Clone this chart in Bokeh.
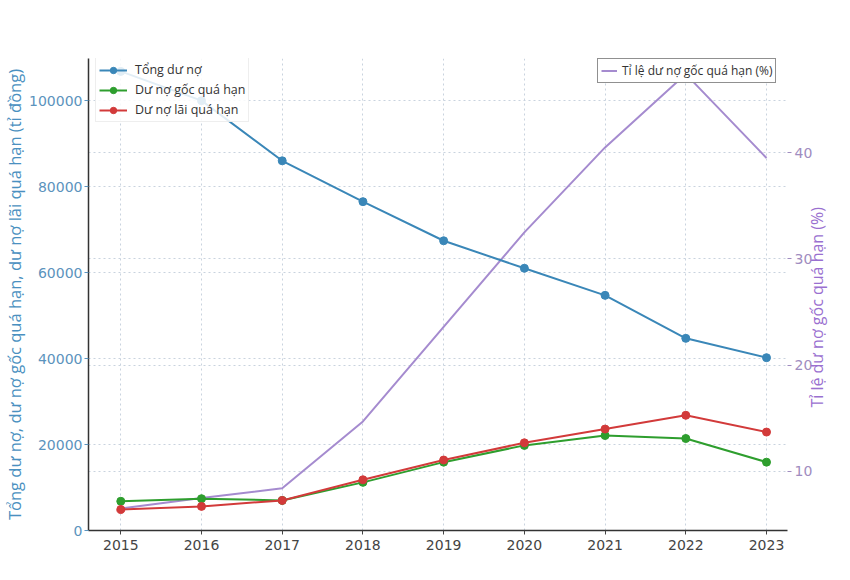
import math
from bokeh.plotting import figure
from bokeh.models import (Range1d, LinearAxis, FixedTicker, Grid, Legend, LegendItem,
                          ColumnDataSource, BasicTickFormatter)
from bokeh.embed import file_html
from bokeh.resources import INLINE

years = [2015, 2016, 2017, 2018, 2019, 2020, 2021, 2022, 2023]
tong_du_no = [106800, 100000, 86000, 76500, 67400, 61000, 54700, 44700, 40200]
goc_qua_han = [6800, 7400, 7000, 11200, 15900, 19800, 22100, 21400, 15900]
lai_qua_han = [4900, 5600, 7000, 11800, 16400, 20400, 23600, 26800, 22900]
ti_le = [6.5, 7.5, 8.4, 14.7, 23.6, 32.5, 40.5, 47.4, 39.5]

left_ticks = [0, 20000, 40000, 60000, 80000, 100000]
right_ticks = [10, 20, 30, 40]
right_title = "Tỉ lệ dư nợ gốc quá hạn (%)"
right_title_start = 16  # right-axis value where the rotated title text begins

src = ColumnDataSource(dict(x=years, tong=tong_du_no, goc=goc_qua_han, lai=lai_qua_han, tl=ti_le))

p = figure(width=842, height=564, output_backend="svg", toolbar_location=None,
           x_range=Range1d(2014.6, 2023.26), y_range=Range1d(0, 109800),
           min_border_left=88, min_border_right=37, min_border_top=58, min_border_bottom=34)
p.extra_y_ranges = {"right": Range1d(4.43, 48.87)}
p.outline_line_color = None
p.background_fill_color = "white"

FONT = "DejaVu Sans"
LFONT = "Open Sans"

# x axis
p.xaxis.ticker = FixedTicker(ticks=years)
p.xaxis.major_label_text_font = FONT
p.xaxis.major_label_text_font_size = "14px"
p.xaxis.major_label_text_color = "#444444"
p.xaxis.axis_line_color = "#333333"
p.xaxis.axis_line_width = 1.5
p.xaxis.major_tick_line_color = "#444444"
p.xaxis.major_tick_out = 4
p.xaxis.major_tick_in = 0
p.xaxis.minor_tick_line_color = None
p.xaxis.major_label_standoff = 5

# left axis
p.yaxis.ticker = FixedTicker(ticks=left_ticks)
p.yaxis.formatter = BasicTickFormatter(use_scientific=False)
p.yaxis.major_label_text_font = FONT
p.yaxis.major_label_text_font_size = "14px"
p.yaxis.major_label_text_color = "#5b93bd"
p.yaxis.axis_line_color = "#333333"
p.yaxis.axis_line_width = 1.5
p.yaxis.major_tick_line_color = "#5b93bd"
p.yaxis.major_tick_out = 4
p.yaxis.major_tick_in = 0
p.yaxis.minor_tick_line_color = None
p.yaxis.major_label_standoff = 2
p.yaxis.axis_label = "Tổng dư nợ, dư nợ gốc quá hạn, dư nợ lãi quá hạn (tỉ đồng)"
p.yaxis.axis_label_text_font = LFONT
p.yaxis.axis_label_text_font_style = "normal"
p.yaxis.axis_label_text_font_size = "16.5px"
p.yaxis.axis_label_text_color = "#4a90c0"
p.yaxis.axis_label_standoff = 0

# right axis (ticks)
ra = LinearAxis(y_range_name="right", ticker=FixedTicker(ticks=right_ticks))
ra.major_label_text_font = FONT
ra.major_label_text_font_size = "14px"
ra.major_label_text_color = "#a08cc0"
ra.axis_line_color = None
ra.major_tick_line_color = "#a08cc0"
ra.major_tick_out = 4
ra.major_tick_in = 0
ra.minor_tick_line_color = None
ra.major_label_standoff = 3
p.add_layout(ra, "right")

# right axis title, drawn bottom-to-top as a rotated single tick label
rt = LinearAxis(y_range_name="right", ticker=FixedTicker(ticks=[right_title_start]),
                major_label_overrides={right_title_start: right_title},
                major_label_orientation=math.pi / 2)
rt.major_label_text_font = LFONT
rt.major_label_text_font_size = "16px"
rt.major_label_text_color = "#9a70d0"
rt.axis_line_color = None
rt.major_tick_line_color = None
rt.major_tick_out = 0
rt.major_tick_in = 0
rt.minor_tick_line_color = None
rt.major_label_standoff = 2
p.add_layout(rt, "right")

# grids
grid_color = "#c9d3de"
p.xgrid.grid_line_color = grid_color
p.xgrid.grid_line_dash = "2 3"
p.ygrid.grid_line_color = grid_color
p.ygrid.grid_line_dash = "2 3"
rg = Grid(dimension=1, ticker=FixedTicker(ticks=right_ticks), y_range_name="right",
          grid_line_color=grid_color, grid_line_dash="2 3")
p.add_layout(rg)

# series
c_blue, c_green, c_red, c_purple = "#3a87b8", "#2e9e2e", "#d23a3a", "#a58bcf"

r_tl = p.line("x", "tl", source=src, y_range_name="right", line_color=c_purple, line_width=2)

lb = p.line("x", "tong", source=src, line_color=c_blue, line_width=2)
sb = p.scatter("x", "tong", source=src, size=8, fill_color=c_blue, line_color=c_blue)
lg = p.line("x", "goc", source=src, line_color=c_green, line_width=2)
sg = p.scatter("x", "goc", source=src, size=8, fill_color=c_green, line_color=c_green)
lr = p.line("x", "lai", source=src, line_color=c_red, line_width=2)
sr = p.scatter("x", "lai", source=src, size=8, fill_color=c_red, line_color=c_red)

leg1 = Legend(items=[
    LegendItem(label="Tổng dư nợ", renderers=[lb, sb]),
    LegendItem(label="Dư nợ gốc quá hạn", renderers=[lg, sg]),
    LegendItem(label="Dư nợ lãi quá hạn", renderers=[lr, sr]),
], location=(7, 408))
leg1.label_text_font = LFONT
leg1.label_text_font_size = "12.5px"
leg1.label_text_color = "#333333"
leg1.glyph_height = 16
leg1.glyph_width = 28
leg1.spacing = 3
leg1.padding = 3
leg1.margin = 0
leg1.label_standoff = 8
leg1.border_line_color = "#dddddd"
leg1.background_fill_alpha = 0.85
leg1.label_height = 16
p.add_layout(leg1)

leg2 = Legend(items=[LegendItem(label="Tỉ lệ dư nợ gốc quá hạn (%)", renderers=[r_tl])],
              location=(509, 447))
leg2.label_text_font = LFONT
leg2.label_text_font_size = "12px"
leg2.label_text_color = "#333333"
leg2.glyph_height = 15
leg2.glyph_width = 16
leg2.padding = 3
leg2.margin = 0
leg2.label_standoff = 5
leg2.border_line_color = "#222222"
leg2.border_line_width = 1
leg2.background_fill_alpha = 1.0
p.add_layout(leg2)

open("out.html", "w").write(file_html(p, INLINE))
